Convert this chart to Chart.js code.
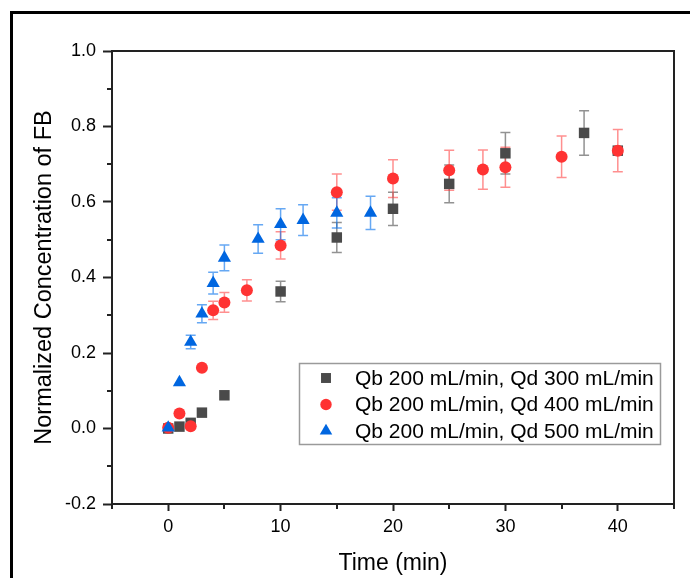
<!DOCTYPE html>
<html><head><meta charset="utf-8">
<script src="https://cdn.jsdelivr.net/npm/chart.js@4/dist/chart.umd.min.js"></script>
<style>html,body{margin:0;padding:0;background:#fff;overflow:hidden}#wrap{position:relative;width:690px;height:578px}</style>
</head><body><div id="wrap"><canvas id="c" width="690" height="578"></canvas></div>
<script>
// ---- data ----
const seriesLabels = ['Qb 200 mL/min, Qd 300 mL/min', 'Qb 200 mL/min, Qd 400 mL/min', 'Qb 200 mL/min, Qd 500 mL/min'];

const timeQd300 = [0, 1, 2, 3, 5, 10, 15, 20, 25, 30, 37, 40];
const concQd300 = [0.000, 0.005, 0.015, 0.042, 0.088, 0.363, 0.506, 0.582, 0.648, 0.729, 0.783, 0.736];
const errQd300  = [0, 0, 0, 0, 0, 0.027, 0.040, 0.044, 0.050, 0.055, 0.059, 0];

const timeQd400 = [0, 1, 2, 3, 4, 5, 7, 10, 15, 20, 25, 28, 30, 35, 40];
const concQd400 = [0.002, 0.040, 0.006, 0.161, 0.313, 0.334, 0.366, 0.485, 0.626, 0.662, 0.684, 0.686, 0.692, 0.720, 0.736];
const errQd400  = [0, 0, 0, 0, 0.024, 0.026, 0.028, 0.036, 0.048, 0.050, 0.053, 0.052, 0.053, 0.055, 0.056];

const timeQd500 = [0, 1, 2, 3, 4, 5, 8, 10, 12, 15, 18];
const concQd500 = [0.002, 0.122, 0.229, 0.304, 0.385, 0.452, 0.502, 0.541, 0.552, 0.571, 0.571];
const errQd500  = [0, 0, 0.018, 0.024, 0.029, 0.034, 0.038, 0.041, 0.041, 0.040, 0.044];

const xTickValues = [0, 10, 20, 30, 40];
const yTickValues = [-0.2, 0.0, 0.2, 0.4, 0.6, 0.8, 1.0];

// ---- styling ----
const FONT = '"Liberation Sans", Arial, sans-serif';
const styles = [
  {color: '#4a4a4a', err: 'rgba(74,74,74,0.6)', shape: 'rect', r: 7.4, order: 3},
  {color: '#ff3333', err: 'rgba(255,51,51,0.55)', shape: 'circle', r: 6, order: 2},
  {color: '#0066e0', err: 'rgba(0,110,235,0.6)', shape: 'triangle', r: 7.6, order: 1}
];
const allTimes = [timeQd300, timeQd400, timeQd500];
const allConc = [concQd300, concQd400, concQd500];
const allErr = [errQd300, errQd400, errQd500];

const datasets = allTimes.map((times, k) => ({
  label: seriesLabels[k],
  data: times.map((t, i) => ({x: t, y: allConc[k][i]})),
  errors: allErr[k],
  pointStyle: styles[k].shape,
  pointRadius: styles[k].r,
  pointHoverRadius: styles[k].r,
  backgroundColor: styles[k].color,
  borderColor: styles[k].color,
  borderWidth: 0,
  showLine: false,
  order: styles[k].order,
  errColor: styles[k].err
}));

const framePlugin = {
  id: 'frame',
  beforeDraw(chart) {
    const ctx = chart.ctx;
    ctx.save();
    ctx.strokeStyle = '#000';
    ctx.lineWidth = 3;
    ctx.beginPath();
    ctx.moveTo(11.5, 578); ctx.lineTo(11.5, 12.5); ctx.lineTo(690, 12.5);
    ctx.stroke();
    ctx.restore();
  },
  beforeDatasetsDraw(chart) {
    const ctx = chart.ctx, a = chart.chartArea;
    const xs = chart.scales.x, ys = chart.scales.y;
    ctx.save();
    ctx.strokeStyle = '#222';
    ctx.lineWidth = 2;
    ctx.strokeRect(a.left, a.top, a.right - a.left, a.bottom - a.top);
    // minor ticks
    ctx.beginPath();
    [-5, 5, 15, 25, 35, 45].forEach(v => {
      const px = Math.round(xs.getPixelForValue(v));
      ctx.moveTo(px, a.bottom); ctx.lineTo(px, a.bottom + 5);
    });
    [-0.1, 0.1, 0.3, 0.5, 0.7, 0.9].forEach(v => {
      const py = Math.round(ys.getPixelForValue(v));
      ctx.moveTo(a.left, py); ctx.lineTo(a.left - 5, py);
    });
    ctx.stroke();
    // error bars
    chart.data.datasets.forEach(ds => {
      ctx.strokeStyle = ds.errColor;
      ctx.lineWidth = 1.5;
      ds.data.forEach((p, i) => {
        const e = ds.errors[i];
        if (!e) return;
        const px = xs.getPixelForValue(p.x);
        const y1 = ys.getPixelForValue(p.y - e), y2 = ys.getPixelForValue(p.y + e);
        ctx.beginPath();
        ctx.moveTo(px, y1); ctx.lineTo(px, y2);
        ctx.moveTo(px - 5, y1); ctx.lineTo(px + 5, y1);
        ctx.moveTo(px - 5, y2); ctx.lineTo(px + 5, y2);
        ctx.stroke();
      });
    });
    ctx.restore();
  },
  afterDraw(chart) {
    const ctx = chart.ctx;
    ctx.save();
    ctx.fillStyle = '#fff';
    ctx.fillRect(299, 363, 362, 82);
    ctx.strokeStyle = '#9a9a9a';
    ctx.lineWidth = 1.5;
    ctx.strokeRect(299.5, 363.5, 361, 81);
    const rows = [378, 404.5, 431];
    rows.forEach((yy, k) => {
      const st = styles[k];
      const r = st.r * 0.95;
      ctx.fillStyle = st.color;
      ctx.beginPath();
      if (st.shape === 'rect') {
        const s = r * Math.SQRT1_2;
        ctx.rect(326 - s, yy - s, 2 * s, 2 * s);
      } else if (st.shape === 'circle') {
        ctx.arc(326, yy, r, 0, Math.PI * 2);
      } else {
        ctx.moveTo(326, yy - r);
        ctx.lineTo(326 + r * Math.sin(Math.PI / 3), yy + r / 2);
        ctx.lineTo(326 - r * Math.sin(Math.PI / 3), yy + r / 2);
        ctx.closePath();
      }
      ctx.fill();
      ctx.fillStyle = '#000';
      ctx.font = '21px ' + FONT;
      ctx.textBaseline = 'middle';
      ctx.textAlign = 'left';
      ctx.fillText(seriesLabels[k], 355, yy + 1);
    });
    ctx.restore();
  }
};

new Chart(document.getElementById('c'), {
  type: 'scatter',
  data: {datasets},
  options: {
    responsive: false,
    animation: false,
    layout: {padding: {top: 51, right: 16, left: 0, bottom: 0}},
    plugins: {legend: {display: false}, tooltip: {enabled: false}},
    scales: {
      x: {
        type: 'linear', min: -5, max: 45,
        afterBuildTicks: s => { s.ticks = xTickValues.map(v => ({value: v})); },
        afterFit: s => { s.height = 74; },
        ticks: {font: {family: FONT, size: 18}, color: '#000', padding: 5, callback: v => String(v)},
        grid: {drawOnChartArea: false, drawTicks: true, tickLength: 7, tickWidth: 2, tickColor: '#222'},
        border: {display: true, color: '#222', width: 2},
        title: {display: true, text: 'Time (min)', font: {family: FONT, size: 23}, color: '#000', padding: {top: 0, bottom: 1}}
      },
      y: {
        type: 'linear', min: -0.2, max: 1.0,
        afterBuildTicks: s => { s.ticks = yTickValues.map(v => ({value: v})); },
        afterFit: s => { s.width = 112; },
        ticks: {font: {family: FONT, size: 18}, color: '#000', padding: 7, callback: v => Number(v).toFixed(1)},
        grid: {drawOnChartArea: false, drawTicks: true, tickLength: 9, tickWidth: 2, tickColor: '#222'},
        border: {display: true, color: '#222', width: 2},
        title: {display: true, text: 'Normalized Concentration of FB', font: {family: FONT, size: 23.5}, color: '#000', padding: {top: 30, bottom: 0}}
      }
    }
  },
  plugins: [framePlugin]
});
</script>
</body></html>
